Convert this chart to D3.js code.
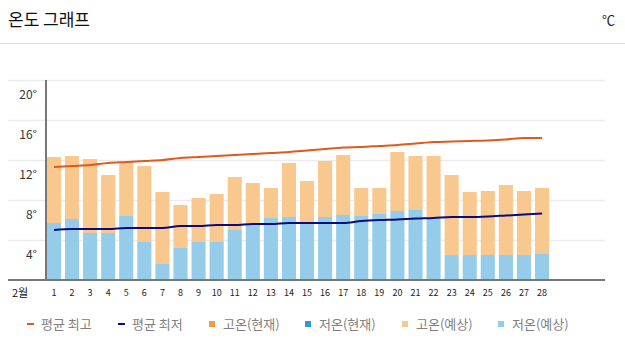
<!DOCTYPE html>
<html>
<head>
<meta charset="utf-8">
<script src="https://cdn.jsdelivr.net/npm/d3@7"></script>
<style>
  body { margin: 0; background: #fff; font-family: "Noto Sans CJK KR", "Noto Sans", sans-serif; }
</style>
</head>
<body>
<div id="chart"></div>
<script>
// Days of February
var days = d3.range(1, 29);
// Forecast highs / lows (bars)
var highForecast = [12.3, 12.4, 12.1, 10.5, 11.8, 11.4, 8.8, 7.5, 8.2, 8.6, 10.3, 9.7, 9.2, 11.7,
                    9.9, 11.9, 12.5, 9.2, 9.2, 12.8, 12.4, 12.4, 10.5, 8.8, 8.9, 9.5, 8.9, 9.2];
var lowForecast = [5.7, 6.1, 4.7, 4.7, 6.4, 3.8, 1.6, 3.2, 3.8, 3.8, 5.0, 5.6, 6.2, 6.3,
                   5.8, 6.3, 6.5, 6.4, 6.6, 6.9, 7.0, 6.2, 2.5, 2.5, 2.5, 2.5, 2.5, 2.6];
// Average highs / lows (lines)
var avgHigh = [11.3, 11.4, 11.5, 11.7, 11.8, 11.9, 12.0, 12.2, 12.3, 12.4, 12.5, 12.6, 12.7, 12.8,
               12.95, 13.1, 13.25, 13.3, 13.4, 13.5, 13.65, 13.8, 13.85, 13.9, 13.95, 14.05, 14.2, 14.2];
var avgLow = [5.0, 5.1, 5.1, 5.1, 5.2, 5.2, 5.2, 5.4, 5.4, 5.5, 5.5, 5.6, 5.6, 5.7,
              5.7, 5.7, 5.7, 5.9, 6.0, 6.05, 6.15, 6.2, 6.3, 6.3, 6.35, 6.45, 6.55, 6.65];
var yTicks = [4, 8, 12, 16, 20];
var legendLabels = ["평균 최고", "평균 최저", "고온(현재)", "저온(현재)", "고온(예상)", "저온(예상)"];

var colors = {
    avgHigh: "#e2591d", avgLow: "#0b0b80",
    highNow: "#f59a3c", lowNow: "#3498d8",
    highFc: "#f8c88f", lowFc: "#94cce9"
};

var fullWidth = 625, fullHeight = 354;
var svg = d3.select("#chart").append("svg")
    .attr("width", fullWidth)
    .attr("height", fullHeight);

// Header
svg.append("text")
    .attr("x", 8).attr("y", 26)
    .style("font-size", "17px").style("fill", "#111")
    .text("온도 그래프");
svg.append("text")
    .attr("x", 615).attr("y", 25)
    .attr("text-anchor", "end")
    .style("font-size", "13px").style("fill", "#222")
    .text("℃");
svg.append("line")
    .attr("x1", 0).attr("x2", fullWidth)
    .attr("y1", 43.5).attr("y2", 43.5)
    .attr("stroke", "#dcdcdc");

// Scales
var x = d3.scaleBand().domain(days).range([46, 550]).paddingInner(0.22).paddingOuter(0.05);
var y = d3.scaleLinear().domain([0, 20]).range([280, 80]);

// Gridlines
svg.append("g").selectAll("line")
    .data(yTicks).enter().append("line")
    .attr("x1", 8).attr("x2", 605)
    .attr("y1", d => y(d) + 0.5).attr("y2", d => y(d) + 0.5)
    .attr("stroke", "#ececec").attr("stroke-width", 1.5);

// Y labels (sit below their gridline)
svg.append("g").selectAll("text")
    .data(yTicks).enter().append("text")
    .attr("x", 37).attr("y", d => y(d) + 15)
    .attr("dy", "0.35em")
    .attr("text-anchor", "end")
    .style("font-size", "12px").style("fill", "#333")
    .text(d => d + "°");

// Bars: low at the bottom, high stacked on top
var bars = svg.append("g");
days.forEach(function(d, i) {
    bars.append("rect")
        .attr("x", x(d)).attr("width", x.bandwidth())
        .attr("y", y(highForecast[i])).attr("height", y(lowForecast[i]) - y(highForecast[i]))
        .attr("fill", colors.highFc);
    bars.append("rect")
        .attr("x", x(d)).attr("width", x.bandwidth())
        .attr("y", y(lowForecast[i])).attr("height", y(0) - y(lowForecast[i]))
        .attr("fill", colors.lowFc);
});

// Axis lines
svg.append("line")
    .attr("x1", 46).attr("x2", 46).attr("y1", 80).attr("y2", 280)
    .attr("stroke", "#777").attr("stroke-width", 2);
svg.append("line")
    .attr("x1", 8).attr("x2", 605).attr("y1", 280).attr("y2", 280)
    .attr("stroke", "#777").attr("stroke-width", 2);

// Average lines
var line = d3.line()
    .x((v, i) => x(days[i]) + x.bandwidth() / 2)
    .y(v => y(v))
    .curve(d3.curveMonotoneX);
svg.append("path").datum(avgHigh)
    .attr("d", line).attr("fill", "none")
    .attr("stroke", colors.avgHigh).attr("stroke-width", 2);
svg.append("path").datum(avgLow)
    .attr("d", line).attr("fill", "none")
    .attr("stroke", colors.avgLow).attr("stroke-width", 2);

// X labels
svg.append("g").selectAll("text")
    .data(days).enter().append("text")
    .attr("x", d => x(d) + x.bandwidth() / 2).attr("y", 293)
    .attr("dy", "0.35em").attr("text-anchor", "middle")
    .style("font-size", "9px").style("fill", "#222")
    .text(d => d);
svg.append("text")
    .attr("x", 20).attr("y", 293).attr("dy", "0.35em")
    .attr("text-anchor", "middle")
    .style("font-size", "11px").style("fill", "#111")
    .text("2월");

// LEGEND
var legendX = [27, 118, 209, 305, 402, 498];
var legendColors = [colors.avgHigh, colors.avgLow, colors.highNow, colors.lowNow, colors.highFc, colors.lowFc];
var legend = svg.append("g");
legendLabels.forEach(function(label, i) {
    if (i < 2) {
        legend.append("rect")
            .attr("x", legendX[i]).attr("y", 323)
            .attr("width", 7).attr("height", 2)
            .attr("fill", legendColors[i]);
    } else {
        legend.append("rect")
            .attr("x", legendX[i]).attr("y", 321)
            .attr("width", 6).attr("height", 6)
            .attr("fill", legendColors[i]);
    }
    legend.append("text")
        .attr("x", legendX[i] + 14).attr("y", 324)
        .attr("dy", "0.35em")
        .style("font-size", "13px").style("fill", "#808080")
        .text(label);
});
</script>
</body>
</html>
